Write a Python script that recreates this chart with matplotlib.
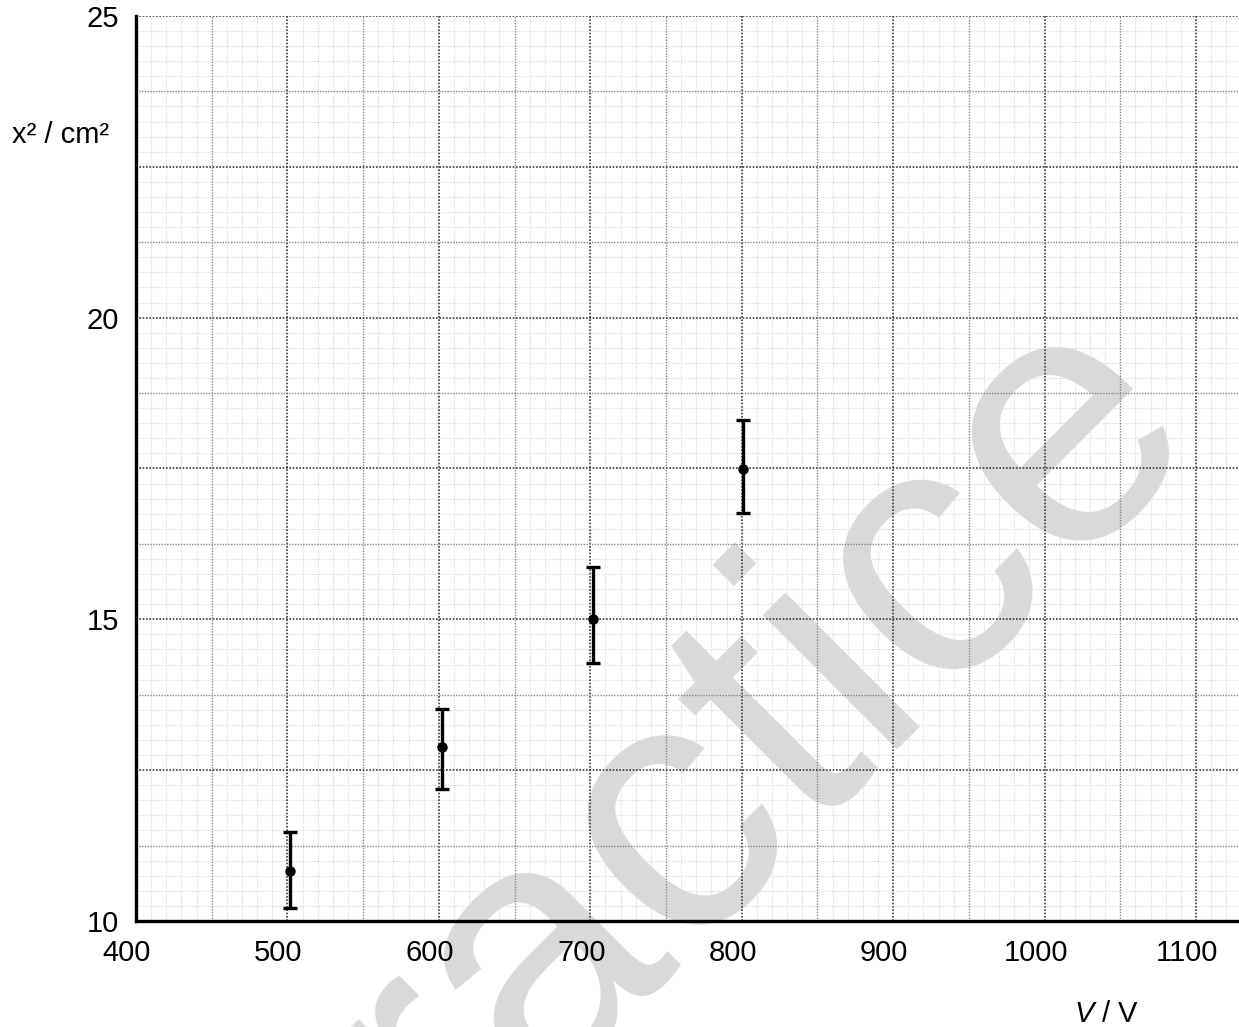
import numpy as np
import matplotlib.pyplot as plt
from matplotlib import transforms

plt.rcParams["font.family"] = ["Liberation Sans", "DejaVu Sans"]
plt.rcParams["mathtext.fontset"] = "custom"
plt.rcParams["mathtext.rm"] = "Liberation Sans"
plt.rcParams["mathtext.it"] = "Liberation Sans:italic"

# %% data
voltage = [501.5, 602, 702, 801]
x_sq = [10.83, 12.88, 15.0, 17.49]
err_low = [0.62, 0.69, 0.72, 0.73]
err_high = [0.65, 0.63, 0.87, 0.81]

x_ticks = [400, 500, 600, 700, 800, 900, 1000, 1100]
y_ticks = [10, 15, 20, 25]

# %%
fig = plt.figure(figsize=(12.39, 10.27), dpi=100)
ax = fig.add_axes([136 / 1239, 1 - 921 / 1027, 1 - 136 / 1239, (921 - 16) / 1027])
ax.set_xlim(400, 1128.4)
ax.set_ylim(10, 25)

# graph paper: fine, medium, bold dotted lines
dots = (0, (1, 1))
for v in np.arange(410, 1130, 10):
    if v % 100 == 0:
        ax.axvline(v, color="#3a3a3a", lw=1.2, ls=dots, zorder=1)
    elif v % 50 == 0:
        ax.axvline(v, color="#888888", lw=1.0, ls=dots, zorder=1)
    else:
        ax.axvline(v, color="#dcdcdc", lw=0.8, ls=dots, zorder=0.5)
for k in range(1, 61):
    h = 10 + 0.25 * k
    if k % 10 == 0:
        ax.axhline(h, color="#3a3a3a", lw=1.2, ls=dots, zorder=1)
    elif k % 5 == 0:
        ax.axhline(h, color="#888888", lw=1.0, ls=dots, zorder=1)
    else:
        ax.axhline(h, color="#dcdcdc", lw=0.8, ls=dots, zorder=0.5)

# watermark, behind the grid and the points
ax.text(0.555, 0.217, "practice", fontsize=260, color="#d9d9d9",
        rotation=45, ha="center", va="center", rotation_mode="anchor",
        transform=fig.transFigure, clip_on=False, zorder=0.2)

ax.errorbar(voltage, x_sq, yerr=[err_low, err_high], fmt="o", color="black",
            ms=6.5, elinewidth=2.4, capsize=5, capthick=2.4, zorder=5)

for s in ["top", "right"]:
    ax.spines[s].set_visible(False)
for s in ["left", "bottom"]:
    ax.spines[s].set_linewidth(2.4)
    ax.spines[s].set_zorder(6)

ax.set_xticks(x_ticks)
ax.set_yticks(y_ticks)
ax.tick_params(length=0, labelsize=21, pad=13)
ax.tick_params(axis="y", pad=12)
shift = transforms.ScaledTranslation(-9 / 100, 0, fig.dpi_scale_trans)
for lab in ax.get_xticklabels():
    lab.set_transform(lab.get_transform() + shift)

fig.text(12 / 1239, 1 - 135 / 1027, "x² / cm²", fontsize=21, ha="left", va="center")
fig.text(1106 / 1239, 1 - 1014 / 1027, r"$V$ / V", fontsize=21, ha="center", va="center")

plt.savefig("out.png", dpi=100)
